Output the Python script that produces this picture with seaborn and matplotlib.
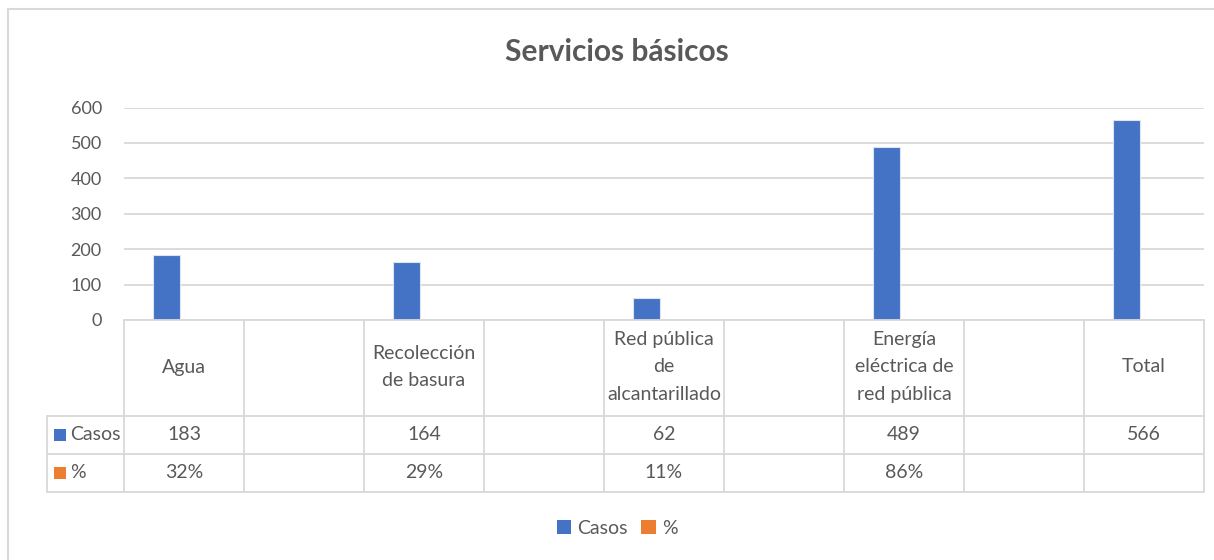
import numpy as np
import pandas as pd
import matplotlib
matplotlib.use("Agg")
import matplotlib.pyplot as plt
from matplotlib.patches import Patch, Rectangle
from matplotlib.lines import Line2D
from matplotlib.transforms import blended_transform_factory
import seaborn as sns

# ---- data ----
categories = ["Agua", "", "Recolección\nde basura", "", "Red pública\nde\nalcantarillado",
              "", "Energía\neléctrica de\nred pública", "", "Total"]
casos = [183, None, 164, None, 62, None, 489, None, 566]
porcentaje = [0.32, None, 0.29, None, 0.11, None, 0.86, None, None]
casos_labels = ["183", "", "164", "", "62", "", "489", "", "566"]
pct_labels = ["32%", "", "29%", "", "11%", "", "86%", "", ""]
series_names = ["Casos", "%"]
colors = {"Casos": "#4472C4", "%": "#ED7D31"}
yticks = [0, 100, 200, 300, 400, 500, 600]

TXT = "#595959"
GRID = "#D9D9D9"
W, H = 1214, 560

sns.set_theme(style="white")
plt.rcParams["font.family"] = ["Lato", "DejaVu Sans"]

keys = [f"c{i}" for i in range(len(categories))]
rows = []
for k, c, p in zip(keys, casos, porcentaje):
    if c is not None:
        rows.append({"cat": k, "serie": "Casos", "valor": c})
    if p is not None:
        rows.append({"cat": k, "serie": "%", "valor": p})
df = pd.DataFrame(rows)

fig = plt.figure(figsize=(W / 100, H / 100), dpi=100)
fx = lambda x: x / W
fy = lambda y: 1 - y / H

ax = fig.add_axes([fx(124), fy(320), (1204 - 124) / W, (320 - 107.5) / H])
sns.barplot(data=df, x="cat", y="valor", hue="serie", order=keys,
            hue_order=series_names, palette=colors, width=0.45, saturation=1,
            edgecolor="#DCE4F2", linewidth=0.8, ax=ax, legend=False)
for p in ax.patches:
    p.set_x(p.get_x() - 0.035)

ax.set_xlim(-0.5, len(categories) - 0.5)
ax.set_ylim(0, 600)
ax.set_yticks(yticks)
ax.set_yticklabels([str(t) for t in yticks], color=TXT, fontsize=13)
ax.tick_params(axis="y", length=0, pad=16)
ax.set_xticks([])
ax.set_xlabel("")
ax.set_ylabel("")
for s in ax.spines.values():
    s.set_visible(False)
ax.grid(axis="y", color=GRID, linewidth=1.3)
ax.set_axisbelow(True)

# ---- data table ----
tr = blended_transform_factory(ax.transData, fig.transFigure)
n = len(categories)
y_top, y_r1, y_r2, y_bot = fy(320), fy(416), fy(454), fy(492)
lw = 1.3
fig.add_artist(Line2D([-0.5, n - 0.5], [y_top, y_top], transform=tr, color=GRID, lw=lw))
for yy in (y_r1, y_r2, y_bot):
    fig.add_artist(Line2D([fx(47), fx(1204)], [yy, yy], transform=fig.transFigure, color=GRID, lw=lw))
for i in range(n + 1):
    fig.add_artist(Line2D([i - 0.5, i - 0.5], [y_top, y_bot], transform=tr, color=GRID, lw=lw))
fig.add_artist(Line2D([fx(47), fx(47)], [y_r1, y_bot], transform=fig.transFigure, color=GRID, lw=lw))

FS = 14
for i in range(n):
    fig.text(i, fy(367), categories[i], transform=tr, ha="center", va="center",
             color=TXT, fontsize=FS, linespacing=1.78)
    fig.text(i, fy(435), casos_labels[i], transform=tr, ha="center", va="center",
             color=TXT, fontsize=FS)
    fig.text(i, fy(473), pct_labels[i], transform=tr, ha="center", va="center",
             color=TXT, fontsize=FS)

for name, yc in zip(series_names, (435, 473)):
    fig.add_artist(Rectangle((fx(54), fy(yc + 6)), 12 / W, 12 / H, transform=fig.transFigure,
                             facecolor=colors[name], edgecolor="none"))
    fig.text(fx(70), fy(yc), name, ha="left", va="center", color=TXT, fontsize=FS)

# ---- title ----
fig.text(fx(617), fy(52), "Servicios básicos", ha="center", va="center",
         color=TXT, fontsize=21.5, fontweight="bold")

# ---- bottom legend ----
handles = [Patch(facecolor=colors[s], edgecolor="none", label=s) for s in series_names]
fig.legend(handles=handles, loc="center", bbox_to_anchor=(fx(617), fy(528)), ncol=2,
           frameon=False, fontsize=FS, labelcolor=TXT, handlelength=0.75,
           handleheight=0.75, handletextpad=0.3, columnspacing=0.7)

# ---- outer border ----
fig.add_artist(Rectangle((fx(8), -0.1), 1.2, fy(9) + 0.1, transform=fig.transFigure,
                         facecolor="none", edgecolor=GRID, lw=1.5))

fig.savefig("out.png", dpi=100)
